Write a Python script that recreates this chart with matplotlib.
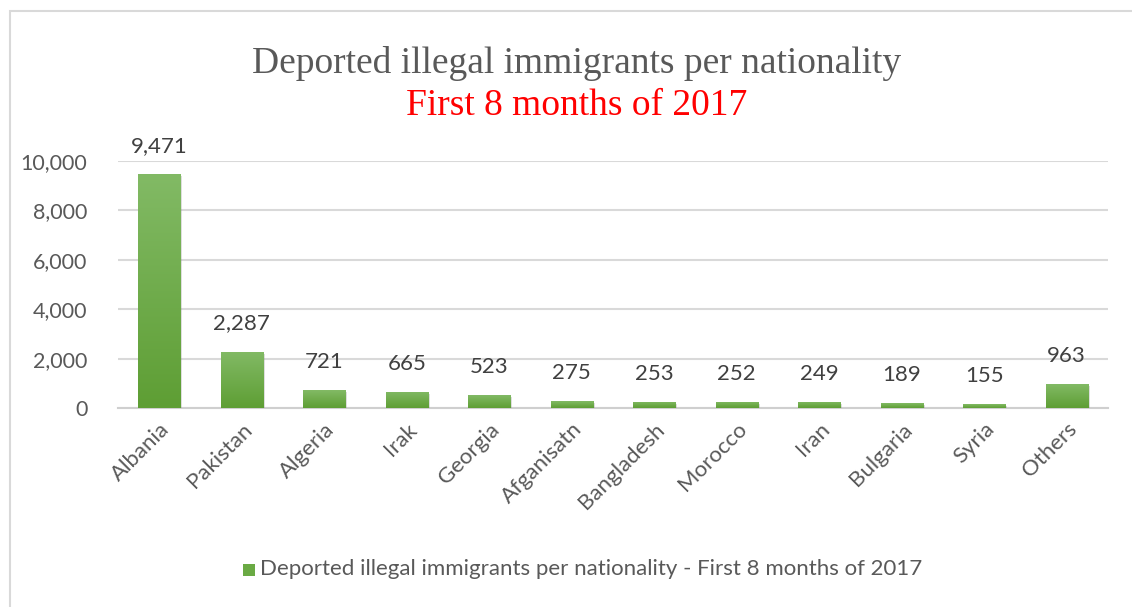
import numpy as np
import matplotlib.pyplot as plt
import matplotlib.patheffects as pe
from matplotlib.patches import Rectangle
from matplotlib.colors import LinearSegmentedColormap

countries = ['Albania', 'Pakistan', 'Algeria', 'Irak', 'Georgia', 'Afganisatn',
             'Bangladesh', 'Morocco', 'Iran', 'Bulgaria', 'Syria', 'Others']
deported = [9471, 2287, 721, 665, 523, 275, 253, 252, 249, 189, 155, 963]
yticks = [0, 2000, 4000, 6000, 8000, 10000]

title_main = 'Deported illegal immigrants per nationality'
title_sub = 'First 8 months of 2017'
series_name = title_main + ' - ' + title_sub

grey_txt = '#595959'
grid_col = '#d9d9d9'
green_top = '#82ba65'
green_bot = '#5e9e34'

plt.rcParams['font.family'] = ['Lato', 'DejaVu Sans']

fig = plt.figure(figsize=(11.32, 6.07), dpi=100)
ax = fig.add_axes([0.1042, 0.3278, 0.8746, 0.407])

x = np.arange(len(countries))
bars = ax.bar(x, deported, width=0.51, color=green_bot, zorder=3,
              path_effects=[pe.SimplePatchShadow(offset=(1.5, -1.5), alpha=0.25,
                                                 shadow_rgbFace='#7f7f7f'),
                            pe.Normal()])

# vertical gradient painted inside each bar
cmap = LinearSegmentedColormap.from_list('bar_grad', [green_bot, green_top])
grad = np.linspace(0, 1, 256).reshape(-1, 1)
for b in bars:
    x0, w, h = b.get_x(), b.get_width(), b.get_height()
    im = ax.imshow(grad, cmap=cmap, origin='lower', aspect='auto',
                   extent=(x0, x0 + w, 0, h), zorder=4)
    im.set_clip_path(b)

for xi, v in zip(x, deported):
    ax.annotate(f'{v:,}', (xi, v), xytext=(0, 13), textcoords='offset points',
                ha='center', va='bottom', fontsize=16, color='#404040', zorder=5)

ax.set_xlim(-0.5, len(countries) - 0.5)
ax.set_ylim(0, 10000)
ax.set_yticks(yticks)
ax.set_yticklabels([f'{t:,}' for t in yticks], fontsize=15.5, color=grey_txt)
ax.set_xticks(x)
ax.set_xticklabels(countries, rotation=45, ha='right', rotation_mode='anchor',
                   fontsize=16, color=grey_txt)
ax.tick_params(axis='both', length=0)
ax.tick_params(axis='y', pad=22)
ax.tick_params(axis='x', pad=8)

ax.grid(axis='y', color=grid_col, linewidth=1.5, zorder=0)
for s in ['top', 'right', 'left']:
    ax.spines[s].set_visible(False)
ax.spines['bottom'].set_color('#cfcfcf')
ax.spines['bottom'].set_linewidth(1.5)
ax.spines['bottom'].set_zorder(2)

fig.text(0.509, 0.895, title_main, ha='center', va='center',
         family='Liberation Serif', fontsize=27, color=grey_txt)
fig.text(0.509, 0.825, title_sub, ha='center', va='center',
         family='Liberation Serif', fontsize=27, color='#ff0000')

# legend entry below the plot
fig.patches.append(Rectangle((243 / 1132, 1 - 576 / 607), 12 / 1132, 12 / 607,
                             transform=fig.transFigure, facecolor='#6aaa44',
                             edgecolor='none'))
fig.text(260 / 1132, 1 - 569 / 607, series_name, ha='left', va='center',
         fontsize=16, color=grey_txt)

# chart frame (left and top edges visible)
fig.patches.append(Rectangle((10 / 1132, -0.1), 1.2, 1.1 - 11 / 607,
                             transform=fig.transFigure, facecolor='none',
                             edgecolor='#d9d9d9', linewidth=1.5))

fig.savefig('out.png', dpi=100)
